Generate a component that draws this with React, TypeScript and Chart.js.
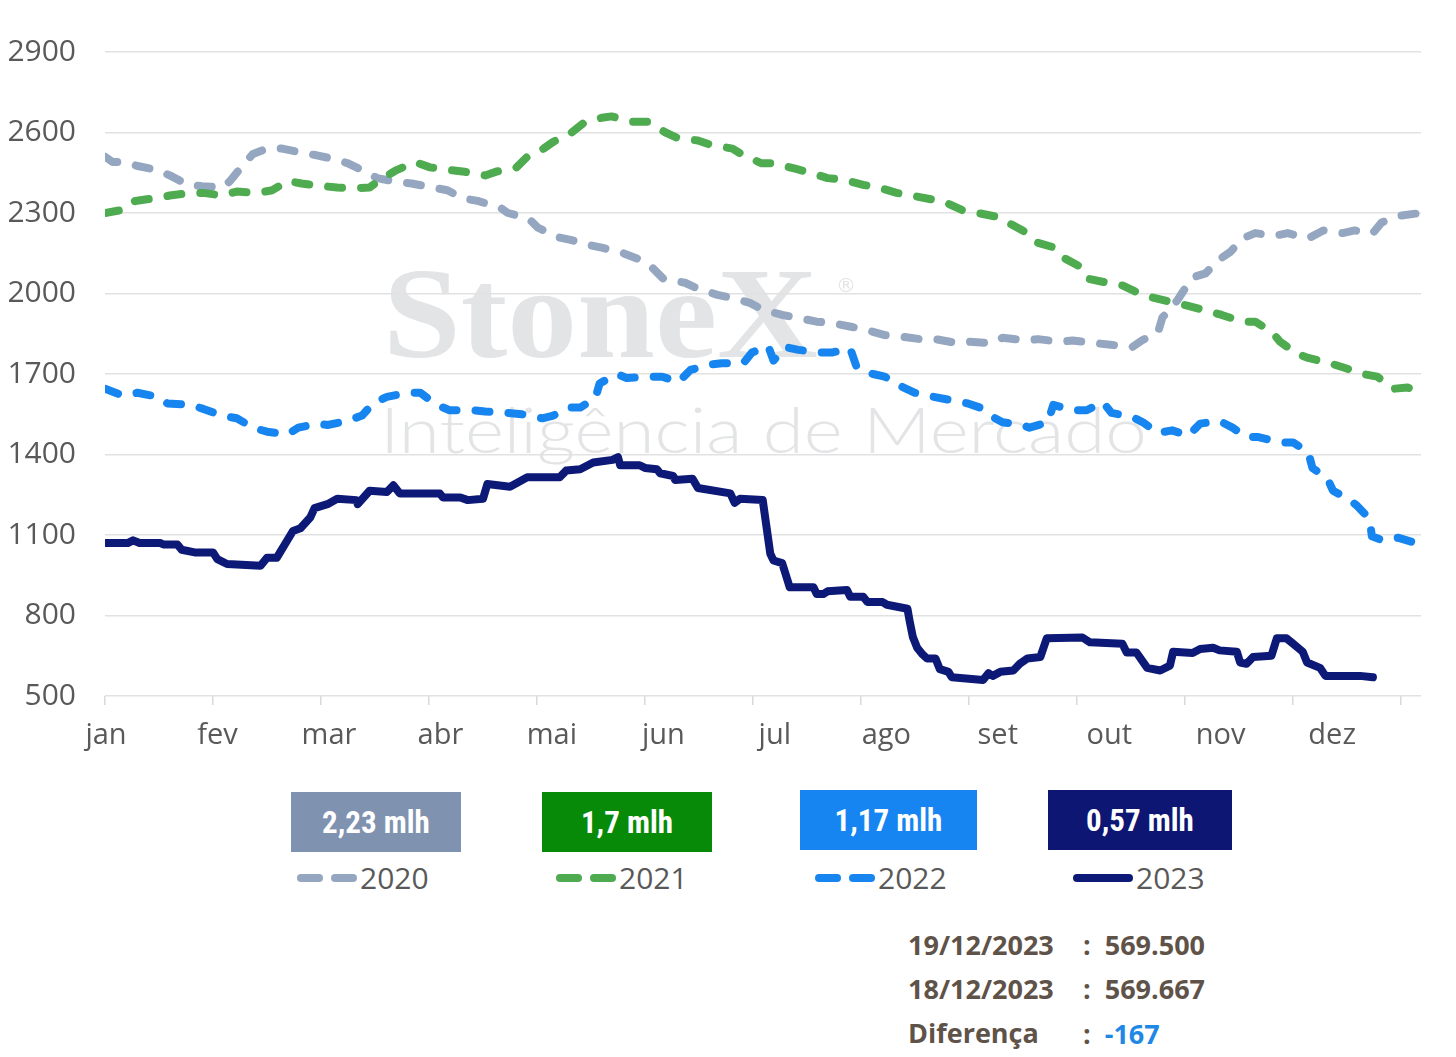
import React, { useEffect, useRef } from "react";
import { Chart, registerables } from "chart.js";

Chart.register(...registerables);

// ---------- data ----------
const monthLabels = ["jan", "fev", "mar", "abr", "mai", "jun", "jul", "ago", "set", "out", "nov", "dez"];
const monthTicks = [0, 1, 2, 3, 4, 5, 6, 7, 8, 9, 10, 11, 12];
const yMin = 500;
const yMax = 2900;
const yStep = 300;

// x positions in months since 1 jan
const x2020 = [0.0, 0.07, 0.19, 0.3, 0.49, 0.6, 0.77, 0.9, 1.09, 1.16, 1.28, 1.37, 1.5, 1.64, 1.82, 1.96, 2.13, 2.25, 2.43, 2.52, 2.71, 2.84, 3.03, 3.17, 3.31, 3.45, 3.66, 3.73, 3.92, 4.01, 4.19, 4.31, 4.49, 4.61, 4.8, 4.93, 5.07, 5.17, 5.37, 5.48, 5.67, 5.79, 5.97, 6.09, 6.27, 6.41, 6.59, 6.73, 6.92, 7.04, 7.22, 7.36, 7.55, 7.69, 7.89, 8.01, 8.21, 8.31, 8.52, 8.64, 8.84, 8.96, 9.17, 9.29, 9.51, 9.6, 9.75, 9.79, 9.93, 9.97, 10.07, 10.19, 10.31, 10.42, 10.53, 10.65, 10.83, 10.95, 11.14, 11.28, 11.46, 11.57, 11.74, 11.82, 11.99, 12.18];
const v2020 = [2510, 2490, 2490, 2475, 2460, 2440, 2405, 2400, 2395, 2420, 2480, 2520, 2540, 2540, 2525, 2515, 2500, 2485, 2450, 2430, 2415, 2410, 2395, 2385, 2355, 2345, 2320, 2300, 2280, 2245, 2210, 2200, 2180, 2170, 2150, 2130, 2095, 2055, 2040, 2020, 1995, 1985, 1965, 1940, 1920, 1910, 1895, 1890, 1875, 1865, 1845, 1840, 1830, 1830, 1815, 1820, 1815, 1835, 1825, 1830, 1820, 1825, 1815, 1810, 1800, 1825, 1855, 1910, 1975, 2000, 2060, 2075, 2125, 2155, 2205, 2225, 2215, 2225, 2205, 2235, 2225, 2235, 2225, 2265, 2290, 2300];

const x2021 = [0.0, 0.14, 0.16, 0.28, 0.46, 0.6, 0.79, 0.91, 1.09, 1.22, 1.41, 1.55, 1.69, 1.82, 2.02, 2.15, 2.34, 2.45, 2.57, 2.7, 2.87, 3.01, 3.19, 3.31, 3.52, 3.63, 3.81, 3.91, 4.06, 4.15, 4.32, 4.43, 4.6, 4.69, 4.88, 5.02, 5.19, 5.3, 5.49, 5.6, 5.81, 5.91, 6.08, 6.2, 6.39, 6.53, 6.69, 6.83, 7.02, 7.16, 7.33, 7.47, 7.66, 7.78, 7.94, 8.08, 8.27, 8.38, 8.54, 8.63, 8.8, 8.89, 9.03, 9.1, 9.28, 9.42, 9.58, 9.7, 9.91, 10.02, 10.21, 10.34, 10.53, 10.65, 10.81, 10.88, 11.04, 11.14, 11.34, 11.46, 11.65, 11.78, 11.93, 12.06, 12.18];
const v2021 = [2300, 2310, 2320, 2345, 2355, 2365, 2375, 2375, 2365, 2380, 2375, 2385, 2420, 2410, 2400, 2395, 2393, 2395, 2430, 2460, 2490, 2470, 2460, 2455, 2440, 2455, 2470, 2510, 2540, 2565, 2600, 2635, 2655, 2660, 2640, 2640, 2600, 2580, 2570, 2555, 2540, 2515, 2485, 2485, 2465, 2450, 2430, 2425, 2405, 2395, 2375, 2365, 2350, 2340, 2310, 2300, 2285, 2260, 2225, 2190, 2170, 2130, 2100, 2055, 2040, 2030, 2000, 1985, 1965, 1955, 1935, 1920, 1895, 1895, 1855, 1820, 1775, 1760, 1740, 1725, 1700, 1690, 1645, 1650, 1630];

const x2022 = [0.0, 0.16, 0.3, 0.49, 0.58, 0.79, 0.91, 1.08, 1.22, 1.37, 1.5, 1.69, 1.79, 1.96, 2.06, 2.24, 2.38, 2.48, 2.61, 2.8, 2.92, 3.07, 3.19, 3.4, 3.52, 3.72, 3.86, 4.05, 4.15, 4.29, 4.4, 4.54, 4.58, 4.74, 4.83, 5.02, 5.16, 5.31, 5.42, 5.6, 5.71, 5.91, 5.99, 6.14, 6.19, 6.3, 6.42, 6.62, 6.73, 6.9, 6.96, 7.11, 7.22, 7.39, 7.5, 7.67, 7.8, 7.99, 8.1, 8.22, 8.31, 8.49, 8.56, 8.73, 8.78, 8.96, 9.09, 9.24, 9.32, 9.51, 9.61, 9.75, 9.88, 10.03, 10.14, 10.32, 10.44, 10.57, 10.68, 10.88, 11.0, 11.14, 11.18, 11.32, 11.37, 11.51, 11.59, 11.71, 11.73, 11.83, 11.97, 12.18];
const v2022 = [1645, 1620, 1630, 1615, 1590, 1585, 1570, 1545, 1535, 1500, 1485, 1475, 1500, 1515, 1510, 1525, 1545, 1590, 1615, 1630, 1630, 1585, 1565, 1565, 1560, 1555, 1550, 1535, 1545, 1575, 1575, 1610, 1665, 1700, 1685, 1690, 1690, 1670, 1715, 1735, 1740, 1740, 1780, 1805, 1750, 1800, 1790, 1780, 1780, 1795, 1725, 1700, 1690, 1650, 1630, 1615, 1605, 1590, 1575, 1540, 1520, 1510, 1500, 1520, 1585, 1565, 1565, 1595, 1555, 1540, 1520, 1480, 1490, 1470, 1515, 1525, 1500, 1465, 1465, 1445, 1445, 1410, 1350, 1310, 1265, 1235, 1210, 1160, 1095, 1080, 1090, 1065];

const x2023 = [0.0, 0.21, 0.26, 0.32, 0.51, 0.54, 0.67, 0.71, 0.83, 1.0, 1.04, 1.13, 1.44, 1.5, 1.59, 1.74, 1.81, 1.9, 1.94, 2.06, 2.15, 2.33, 2.34, 2.45, 2.61, 2.67, 2.73, 3.1, 3.13, 3.29, 3.36, 3.5, 3.54, 3.75, 3.91, 4.21, 4.27, 4.4, 4.52, 4.7, 4.75, 4.77, 4.95, 5.0, 5.11, 5.14, 5.26, 5.28, 5.44, 5.49, 5.79, 5.83, 5.88, 6.09, 6.16, 6.19, 6.27, 6.34, 6.56, 6.59, 6.65, 6.69, 6.87, 6.9, 7.02, 7.06, 7.2, 7.24, 7.43, 7.45, 7.48, 7.52, 7.57, 7.61, 7.69, 7.73, 7.81, 7.84, 8.13, 8.18, 8.22, 8.29, 8.41, 8.47, 8.54, 8.66, 8.72, 9.05, 9.12, 9.42, 9.46, 9.55, 9.65, 9.77, 9.86, 9.89, 10.07, 10.14, 10.26, 10.32, 10.48, 10.51, 10.57, 10.63, 10.8, 10.85, 10.94, 11.0, 11.09, 11.13, 11.25, 11.3, 11.62, 11.74];
const v2023 = [1070, 1070, 1080, 1070, 1070, 1065, 1065, 1045, 1035, 1035, 1010, 992, 985, 1015, 1015, 1115, 1125, 1165, 1200, 1215, 1235, 1230, 1215, 1265, 1260, 1285, 1255, 1255, 1240, 1240, 1230, 1235, 1290, 1280, 1315, 1315, 1340, 1345, 1370, 1380, 1390, 1360, 1360, 1350, 1345, 1330, 1320, 1305, 1310, 1275, 1255, 1220, 1235, 1230, 1030, 1005, 995, 905, 905, 880, 880, 890, 895, 870, 870, 850, 850, 840, 825, 780, 720, 680, 655, 640, 640, 600, 590, 570, 560, 585, 575, 590, 595, 620, 640, 645, 715, 718, 700, 695, 662, 662, 605, 595, 613, 665, 660, 675, 680, 670, 665, 625, 620, 645, 650, 715, 715, 695, 665, 625, 605, 575, 575, 570];

const seriesNames = ["2020", "2021", "2022", "2023"];
const boxLabels = ["2,23 mlh", "1,7 mlh", "1,17 mlh", "0,57 mlh"];
const infoRows = [
  ["19/12/2023", "569.500"],
  ["18/12/2023", "569.667"],
  ["Diferença", "-167"],
];

// ---------- styles ----------
const lineColors = ["#95A6C1", "#4FAB4F", "#1685F0", "#0D1976"];
const boxColors = ["#7F92B0", "#078A07", "#1685F2", "#0D1673"];
const axisColor = "#595959";
const gridColor = "#E2E2E2";
const axisFont = '"Open Sans", "DejaVu Sans", sans-serif';

const toPts = (xs: number[], vs: number[]) => xs.map((x, i) => ({ x, y: vs[i] }));

const watermark = {
  id: "watermark",
  beforeDraw(chart: any) {
    const ctx = chart.ctx;
    ctx.save();
    ctx.fillStyle = "#E3E4E6";
    ctx.textBaseline = "alphabetic";
    ctx.textAlign = "left";
    // StoneX logo text, stretched horizontally
    ctx.save();
    ctx.font = 'bold 130px "Liberation Serif", "DejaVu Serif", serif';
    const w1 = ctx.measureText("StoneX").width;
    ctx.translate(383, 357);
    ctx.scale(435 / w1, 1);
    ctx.fillText("StoneX", 0, 0);
    ctx.restore();
    ctx.font = '20px "DejaVu Sans", sans-serif';
    ctx.fillText("®", 836, 292);
    // subtitle
    ctx.save();
    ctx.font = '300 64px "Lato", "Open Sans", sans-serif';
    const w2 = ctx.measureText("Inteligência de Mercado").width;
    ctx.translate(380, 453);
    ctx.scale(767 / w2, 1);
    ctx.fillText("Inteligência de Mercado", 0, 0);
    ctx.restore();
    ctx.restore();
  },
};

export default function App() {
  const canvasRef = useRef<HTMLCanvasElement | null>(null);

  useEffect(() => {
    const canvas = canvasRef.current;
    if (!canvas) return;
    const xs = [x2020, x2021, x2022, x2023];
    const vs = [v2020, v2021, v2022, v2023];
    const datasets = seriesNames.map((name, i) => ({
      label: name,
      data: toPts(xs[i], vs[i]),
      borderColor: lineColors[i],
      backgroundColor: lineColors[i],
      borderWidth: 8,
      borderDash: i === 3 ? [] : [14, 19],
      borderCapStyle: "round" as const,
      borderJoinStyle: "round" as const,
      pointRadius: 0,
      tension: 0,
      fill: false,
      order: 3 - i,
      xAxisID: "x",
      yAxisID: "y",
    }));

    const chart = new Chart(canvas, {
      type: "line",
      data: { datasets },
      plugins: [watermark],
      options: {
        animation: false,
        responsive: false,
        maintainAspectRatio: false,
        layout: { padding: { top: 52, right: 35, bottom: 5, left: 0 } },
        plugins: {
          legend: { display: false },
          tooltip: { enabled: false },
        },
        scales: {
          x: {
            type: "linear",
            position: "bottom",
            min: 0,
            max: 12.185,
            weight: 0,
            border: { display: false },
            grid: {
              display: true,
              drawOnChartArea: false,
              drawTicks: true,
              tickLength: 9,
              color: "#D9D9D9",
              lineWidth: 1.5,
            },
            ticks: { display: false },
            afterBuildTicks: (s: any) => {
              s.ticks = monthTicks.map((v) => ({ value: v }));
            },
            afterFit: (s: any) => {
              s.height = 9;
            },
          },
          x2: {
            type: "linear",
            position: "bottom",
            min: -0.009,
            max: 11.797,
            weight: 1,
            border: { display: false },
            grid: { display: false, drawTicks: false },
            ticks: {
              autoSkip: false,
              maxRotation: 0,
              padding: 13,
              color: axisColor,
              font: { family: axisFont, size: 29 },
              callback: (v: any) => monthLabels[Math.round(Number(v))] ?? "",
            },
            afterBuildTicks: (s: any) => {
              s.ticks = monthLabels.map((_, i) => ({ value: i }));
            },
            afterFit: (s: any) => {
              s.height = 60;
            },
          },
          y: {
            type: "linear",
            min: yMin,
            max: yMax,
            border: { display: false },
            grid: { color: gridColor, lineWidth: 1.5, drawTicks: false },
            ticks: {
              stepSize: yStep,
              padding: 29,
              color: axisColor,
              font: { family: axisFont, size: 30 },
              callback: (v: any) => String(v),
            },
            afterFit: (s: any) => {
              s.width = 105;
            },
          },
        },
      },
    });
    return () => chart.destroy();
  }, []);

  const boxPos = [
    { left: 291, top: 792, width: 170, height: 60 },
    { left: 542, top: 792, width: 170, height: 60 },
    { left: 800, top: 790, width: 177, height: 60 },
    { left: 1048, top: 790, width: 184, height: 60 },
  ];
  const legendLeft = [297, 556, 815, 1073];

  return (
    <div
      style={{
        position: "fixed",
        left: 0,
        top: 0,
        width: 1456,
        height: 1057,
        background: "#FFFFFF",
        overflow: "hidden",
      }}
    >
      <canvas ref={canvasRef} width={1456} height={770} style={{ position: "absolute", left: 0, top: 0, width: 1456, height: 770 }} />
      {boxLabels.map((t, i) => (
        <div
          key={"b" + i}
          style={{
            position: "absolute",
            ...boxPos[i],
            background: boxColors[i],
            color: "#FFFFFF",
            display: "flex",
            alignItems: "center",
            justifyContent: "center",
            fontFamily: '"Liberation Sans Narrow", "Roboto Condensed", Roboto, sans-serif',
            fontWeight: 700,
            fontSize: 31,
          }}
        >
          {t}
        </div>
      ))}
      {seriesNames.map((name, i) => (
        <div
          key={"l" + i}
          style={{
            position: "absolute",
            left: legendLeft[i],
            top: 858,
            height: 40,
            display: "flex",
            alignItems: "center",
          }}
        >
          {i === 3 ? (
            <div style={{ width: 60, height: 8, borderRadius: 4, background: lineColors[i] }} />
          ) : (
            <div style={{ display: "flex", width: 60, justifyContent: "space-between" }}>
              <div style={{ width: 26, height: 8, borderRadius: 4, background: lineColors[i] }} />
              <div style={{ width: 26, height: 8, borderRadius: 4, background: lineColors[i] }} />
            </div>
          )}
          <span style={{ marginLeft: 3, fontFamily: axisFont, fontSize: 30, color: axisColor, lineHeight: "40px" }}>{name}</span>
        </div>
      ))}
      {infoRows.map((r, i) => (
        <React.Fragment key={"r" + i}>
          <div
            style={{
              position: "absolute",
              left: 908,
              top: 925 + i * 44,
              height: 40,
              lineHeight: "40px",
              fontFamily: axisFont,
              fontWeight: 700,
              fontSize: 27,
              color: "#5F5349",
              whiteSpace: "nowrap",
            }}
          >
            {r[0]}
          </div>
          <div
            style={{
              position: "absolute",
              left: 1083,
              top: 925 + i * 44 + (i === 2 ? 1 : 0),
              height: 40,
              lineHeight: "40px",
              fontFamily: axisFont,
              fontWeight: 700,
              fontSize: 27,
              color: "#5F5349",
              whiteSpace: "pre",
            }}
          >
            {":  "}
            <span style={{ color: i === 2 ? "#1E88E5" : "#5F5349" }}>{r[1]}</span>
          </div>
        </React.Fragment>
      ))}
    </div>
  );
}
